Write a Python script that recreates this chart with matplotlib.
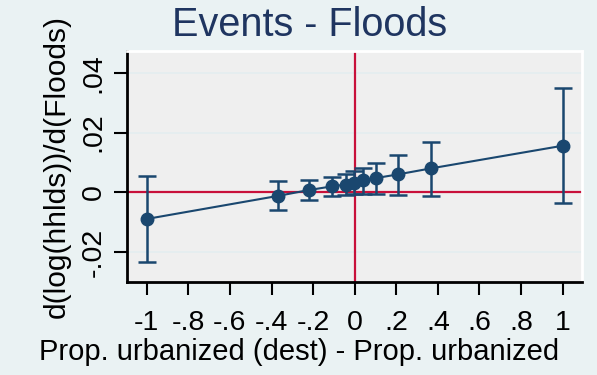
import matplotlib
matplotlib.use('Agg')
import matplotlib.pyplot as plt

# =====================================
# DATA
# =====================================

x_vals = [-1.0, -0.37, -0.218, -0.109, -0.043, -0.002, 0.038, 0.104, 0.207, 0.365, 1.0]
coef = [-0.0089, -0.0012, 0.0008, 0.0020, 0.0026, 0.0030, 0.0041, 0.0048, 0.0060, 0.0080, 0.0156]
ci_hi = [0.0056, 0.0037, 0.0041, 0.0051, 0.0063, 0.0071, 0.0082, 0.0097, 0.0125, 0.0168, 0.0349]
ci_lo = [-0.0233, -0.0060, -0.0026, -0.0013, -0.0009, -0.0007, -0.0006, -0.0006, -0.0009, -0.0013, -0.0037]

x_ticks = [-1, -0.8, -0.6, -0.4, -0.2, 0, 0.2, 0.4, 0.6, 0.8, 1]
x_labels = ['-1', '-.8', '-.6', '-.4', '-.2', '0', '.2', '.4', '.6', '.8', '1']
y_ticks = [-0.02, 0, 0.02, 0.04]
y_labels = ['-.02', '0', '.02', '.04']

# =====================================
# STYLE
# =====================================

plt.rcParams['font.family'] = ['Liberation Sans', 'DejaVu Sans']

navy = '#1a476f'
red = '#c8103a'
bg = '#eaf2f3'

fig = plt.figure(figsize=(5.97, 3.75), dpi=100, facecolor=bg)
ax = fig.add_axes([127 / 597, 1 - 282 / 375, 455 / 597, 231 / 375])
ax.set_facecolor('#efefef')

# =====================================
# PLOT
# =====================================

ax.axhline(0, color=red, lw=1.6, zorder=1)
ax.axvline(0, color=red, lw=1.6, zorder=1)

yerr = [[c - lo for c, lo in zip(coef, ci_lo)], [hi - c for c, hi in zip(coef, ci_hi)]]
ax.errorbar(x_vals, coef, yerr=yerr, fmt='none', ecolor=navy,
            elinewidth=1.8, capsize=6.5, capthick=1.8, zorder=3)
ax.plot(x_vals, coef, '-o', color=navy, lw=1.5, markersize=9, zorder=4)

ax.set_xlim(-1.095, 1.093)
ax.set_ylim(-0.030, 0.0473)

ax.set_xticks(x_ticks)
ax.set_xticklabels(x_labels)
ax.set_yticks(y_ticks)
ax.set_yticklabels(y_labels, rotation=90, va='center')

ax.tick_params(axis='both', labelsize=20.5, length=9.5, width=1.5, color='black')
ax.tick_params(axis='x', pad=11)
ax.tick_params(axis='y', pad=5)

ax.grid(axis='y', color='#e4edf0', lw=1.2, zorder=0)
ax.set_axisbelow(True)

for side in ['left', 'bottom']:
    ax.spines[side].set_linewidth(2)
    ax.spines[side].set_color('black')
for side in ['top', 'right']:
    ax.spines[side].set_linewidth(2)
    ax.spines[side].set_color('white')

# axis titles placed in axes coordinates
ax.set_xlabel('Prop. urbanized (dest) - Prop. urbanized', fontsize=21, va='baseline')
ax.xaxis.set_label_coords((299 - 127) / 455, (282 - 360) / 231)
ax.set_ylabel('d(log(hhlds))/d(Floods)', fontsize=21.5, va='baseline')
ax.yaxis.set_label_coords((65 - 127) / 455, 0.5)

fig.text(310 / 597, 1 - 36 / 375, 'Events - Floods', fontsize=28.5,
         color='#1f3560', ha='center', va='baseline')

fig.savefig('out.png', dpi=100, facecolor=bg)
